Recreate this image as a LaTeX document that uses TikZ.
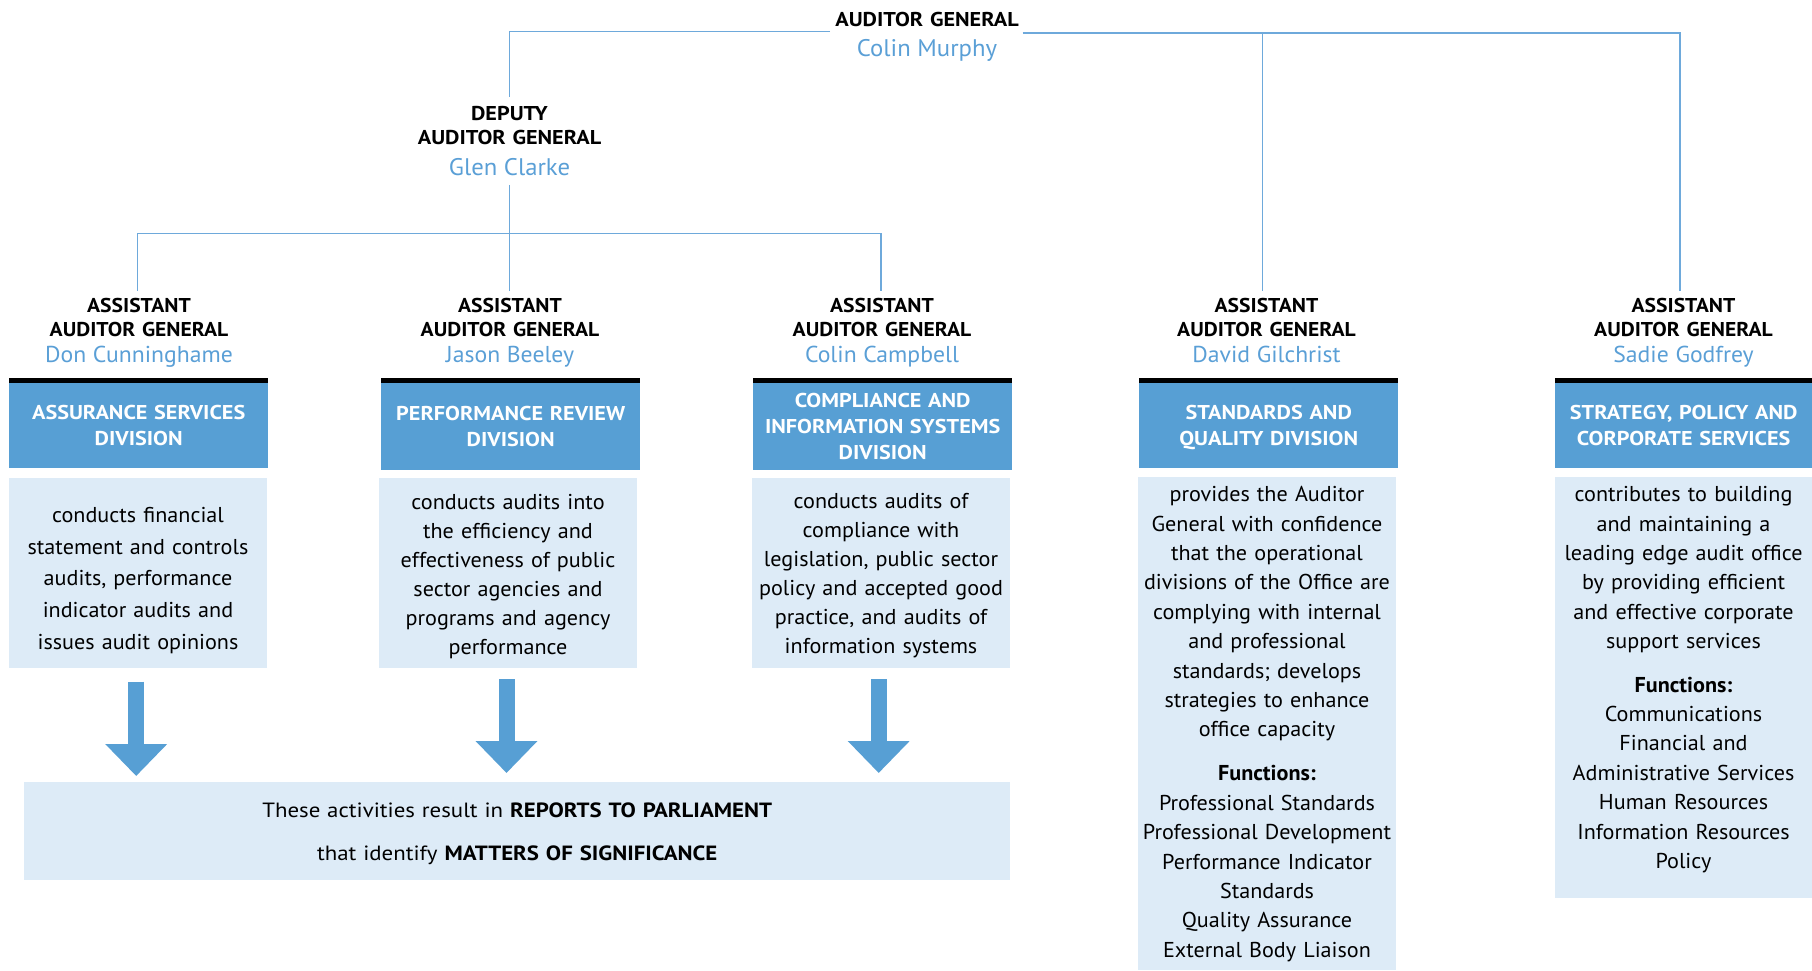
\documentclass[tikz,border=0pt]{standalone}
\usepackage{fontspec}
\setmainfont{PT Sans}[FakeStretch=1.03]
\newfontfamily\hdfont{PT Sans}[FakeStretch=1.11]
\newfontfamily\ahfont{PT Sans}[FakeStretch=1.08]
\usetikzlibrary{arrows.meta}
\definecolor{boxblue}{HTML}{579FD4}
\definecolor{paleblue}{HTML}{DDEBF7}
\definecolor{namecol}{HTML}{5A9FD6}
\definecolor{linecol}{HTML}{6EA9DB}
\newcommand{\pname}[1]{{\color{namecol}\rmfamily\fontsize{23}{24}\mdseries\selectfont #1}}
\newcommand{\bname}[1]{{\color{namecol}\rmfamily\fontsize{24}{24}\mdseries\selectfont #1}}
\begin{document}
\begin{tikzpicture}[x=1pt,y=-1pt,
  conn/.style={draw=linecol,line width=1.5pt},
  ttl/.style={font=\hdfont\fontsize{20}{24}\selectfont\bfseries,align=center,text width=280pt,inner sep=0pt,outer ysep=7pt,anchor=base},
  attl/.style={ttl,font=\ahfont\fontsize{20}{24}\selectfont\bfseries},
  divbox/.style={fill=boxblue,text=white,font=\hdfont\fontsize{20}{26}\selectfont\bfseries,align=center,text width=256pt,minimum width=259pt,minimum height=85pt,inner sep=0pt,text height=14pt,text depth=26pt,anchor=north west},
  panel/.style={fill=paleblue,inner sep=0pt,minimum width=258pt,anchor=north west},
  body/.style={font=\fontsize{21.5}{29.4}\selectfont,align=center,text width=256pt,inner sep=0pt,anchor=base},
  blockarrow/.style={draw=boxblue,line width=16pt,-{Triangle[width=60pt,length=32pt]}},
  bar/.style={fill=black}
]
\useasboundingbox (0,0) rectangle (1812,970);

% titles
\node[ttl] (ag) at (927,26.7) {AUDITOR GENERAL\\[6pt]\bname{Colin Murphy}};
\node[ttl,outer ysep=9pt] (dep) at (509.5,120) {DEPUTY\\AUDITOR GENERAL\\[7.7pt]\bname{Glen Clarke}};
\node[attl] (h1) at (139,312) {ASSISTANT\\AUDITOR GENERAL\\[2.7pt]\pname{Don Cunninghame}};
\node[attl] (h2) at (510,312) {ASSISTANT\\AUDITOR GENERAL\\[2.7pt]\pname{Jason Beeley}};
\node[attl] (h3) at (882,312) {ASSISTANT\\AUDITOR GENERAL\\[2.7pt]\pname{Colin Campbell}};
\node[attl] (h4) at (1266.5,312) {ASSISTANT\\AUDITOR GENERAL\\[2.7pt]\pname{David Gilchrist}};
\node[attl] (h5) at (1683.5,312) {ASSISTANT\\AUDITOR GENERAL\\[2.7pt]\pname{Sadie Godfrey}};

% connectors
\coordinate (agl) at (830,31.7);
\coordinate (agr) at (1022.6,33);
\coordinate (j4) at (1262.6,33);
\coordinate (j5) at (1680,33);
\coordinate (j1) at (137.7,233.3);
\coordinate (j3) at (881,233.3);
\draw[conn] (agl) -| (dep.north);
\draw[conn] (agr) -- (j5) -- (j5 |- h5.north);
\draw[conn] (j4) -- (j4 |- h4.north);
\draw[conn] (dep.south) -- (dep.south |- h2.north);
\draw[conn] (j1) -- (j3);
\draw[conn] (j1) -- (j1 |- h1.north);
\draw[conn] (j3) -- (j3 |- h3.north);

% division boxes
\node[divbox] (b1) at (9,383) {ASSURANCE SERVICES\\DIVISION};
\node[divbox,minimum height=87pt] (b2) at (381,383) {PERFORMANCE REVIEW\\DIVISION};
\node[divbox,minimum height=87pt,text depth=52pt] (b3) at (753,383) {COMPLIANCE AND\\INFORMATION SYSTEMS\\DIVISION};
\node[divbox] (b4) at (1139,383) {STANDARDS AND\\QUALITY DIVISION};
\node[divbox,minimum width=257pt] (b5) at (1555,383) {STRATEGY, POLICY AND\\CORPORATE SERVICES};
\foreach \b in {b1,b2,b3,b4,b5} \fill[bar] (\b.north west) rectangle ([yshift=5pt]\b.north east);

% description panels
\node[panel,minimum height=190pt] (l1) at (9,478) {};
\node[panel,minimum height=190pt] (l2) at (379,478) {};
\node[panel,minimum height=190pt] (l3) at (752,478) {};
\node[panel,minimum height=493pt] (l4) at (1138,477) {};
\node[panel,minimum height=421pt,minimum width=257pt] (l5) at (1555,477) {};

\node[body,font=\fontsize{21.5}{31.7}\selectfont] (t1) at (138,522.3) {conducts financial\\statement and controls\\audits, performance\\indicator audits and\\issues audit opinions};
\node[body,font=\fontsize{21.5}{29}\selectfont] (t2) at (508,509) {conducts audits into\\the efficiency and\\effectiveness of public\\sector agencies and\\programs and agency\\performance};
\node[body,font=\fontsize{21.5}{29}\selectfont] (t3) at (881,508.3) {conducts audits of\\compliance with\\legislation, public sector\\policy and accepted good\\practice, and audits of\\information systems};
\node[body] (t4) at (1267,501.7) {provides the Auditor\\General with confidence\\that the operational\\divisions of the Office are\\complying with internal\\and professional\\standards; develops\\strategies to enhance\\office capacity\\[14.6pt]\textbf{Functions:}\\Professional Standards\\Professional Development\\Performance Indicator\\Standards\\Quality Assurance\\External Body Liaison};
\node[body] (t5) at (1683.5,501.7) {contributes to building\\and maintaining a\\leading edge audit office\\by providing efficient\\and effective corporate\\support services\\[14pt]\textbf{Functions:}\\Communications\\Financial and\\Administrative Services\\Human Resources\\Information Resources\\Policy};

% result box
\node[panel,minimum width=986pt,minimum height=98pt,font=\hdfont\fontsize{20.6}{43.4}\selectfont,align=center,text width=980pt,text height=16pt,text depth=43.4pt] (rep) at (24,782) {These activities result in \textbf{REPORTS TO PARLIAMENT}\\that identify \textbf{MATTERS OF SIGNIFICANCE}};

% block arrows
\coordinate (a1s) at (136.2,681.7);
\coordinate (a2s) at (506.5,679);
\coordinate (a3s) at (878.7,679);
\draw[blockarrow,shorten >=6pt] (a1s) -- (a1s |- rep.north);
\draw[blockarrow,shorten >=9pt] (a2s) -- (a2s |- rep.north);
\draw[blockarrow,shorten >=9pt] (a3s) -- (a3s |- rep.north);
\end{tikzpicture}
\end{document}
